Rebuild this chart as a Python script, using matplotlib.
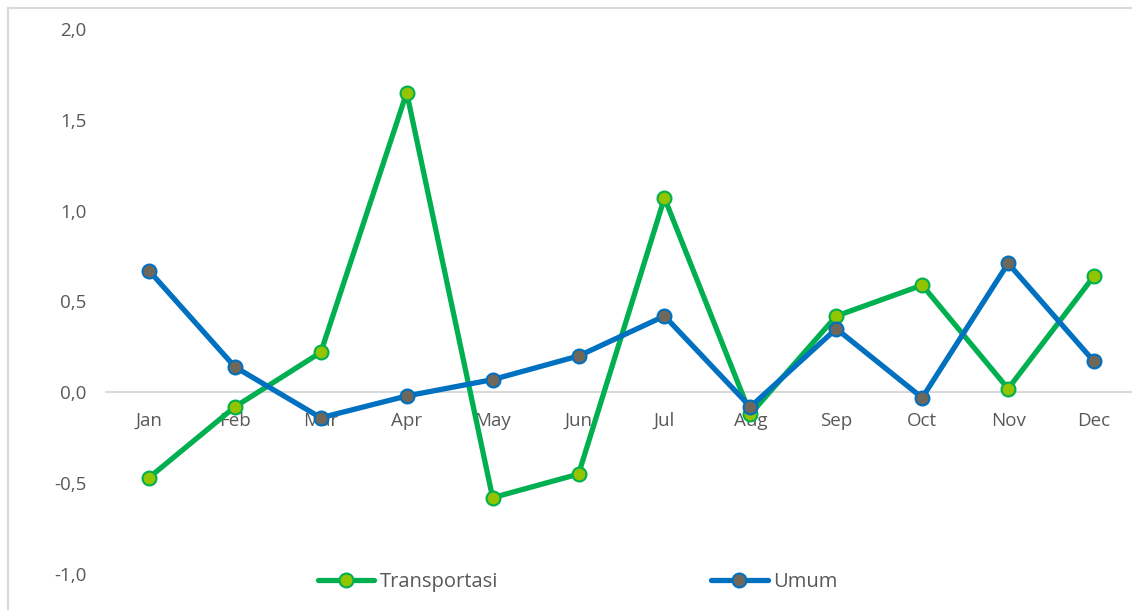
import numpy as np
import matplotlib.pyplot as plt
from matplotlib.lines import Line2D
from matplotlib.ticker import FuncFormatter

plt.rcParams['font.family'] = ['Open Sans', 'DejaVu Sans']

# data
bulan = ["Jan", "Feb", "Mar", "Apr", "May", "Jun", "Jul", "Aug", "Sep", "Oct", "Nov", "Dec"]
transportasi = [-0.47, -0.08, 0.22, 1.65, -0.58, -0.45, 1.07, -0.12, 0.42, 0.59, 0.02, 0.64]
umum = [0.67, 0.14, -0.14, -0.02, 0.07, 0.20, 0.42, -0.08, 0.35, -0.03, 0.71, 0.17]

teks = "#595959"
grid = "#d9d9d9"

fig = plt.figure(figsize=(11.32, 6.10), dpi=100)
ax = fig.add_axes([106/1132, 36/610, 1031/1132, 545/610])

x = np.arange(len(bulan))
ax.plot(x, transportasi, color="#00b050", lw=3.8, marker="o", ms=10,
        mfc="#92c400", mec="#00b050", mew=1.5, label="Transportasi",
        solid_joinstyle="round", solid_capstyle="round")
ax.plot(x, umum, color="#0070c0", lw=3.8, marker="o", ms=10,
        mfc="#6f6759", mec="#0070c0", mew=1.5, label="Umum",
        solid_joinstyle="round", solid_capstyle="round")

ax.set_xlim(-0.5, len(bulan) - 0.5)
ax.set_ylim(-1.0, 2.0)
ax.set_yticks(np.arange(-1.0, 2.01, 0.5))
ax.yaxis.set_major_formatter(FuncFormatter(lambda v, p: f"{v:.1f}".replace(".", ",")))
ax.set_xticks(x)
ax.set_xticklabels(bulan)

for s in ["top", "right", "left"]:
    ax.spines[s].set_visible(False)
ax.spines["bottom"].set_position(("data", 0))
ax.spines["bottom"].set_color(grid)
ax.spines["bottom"].set_linewidth(1.5)
ax.spines["bottom"].set_zorder(0)

ax.tick_params(axis="x", length=0, pad=14, labelsize=13.5, colors=teks)
ax.tick_params(axis="y", length=0, pad=14, labelsize=13.5, colors=teks)

leg = fig.legend(loc="center left", bbox_to_anchor=(318/1132, 28/610), ncol=2,
                 frameon=False, fontsize=14.5, handlelength=2.8, handletextpad=0.25,
                 columnspacing=10.6, borderaxespad=0, borderpad=0)
for t in leg.get_texts():
    t.set_color(teks)

# chart border (top and left)
fig.add_artist(Line2D([8/1132, 8/1132], [0, 1 - 8/610], transform=fig.transFigure, color=grid, lw=1.5))
fig.add_artist(Line2D([8/1132, 1], [1 - 8/610, 1 - 8/610], transform=fig.transFigure, color=grid, lw=1.5))

fig.savefig("out.png", dpi=100)
